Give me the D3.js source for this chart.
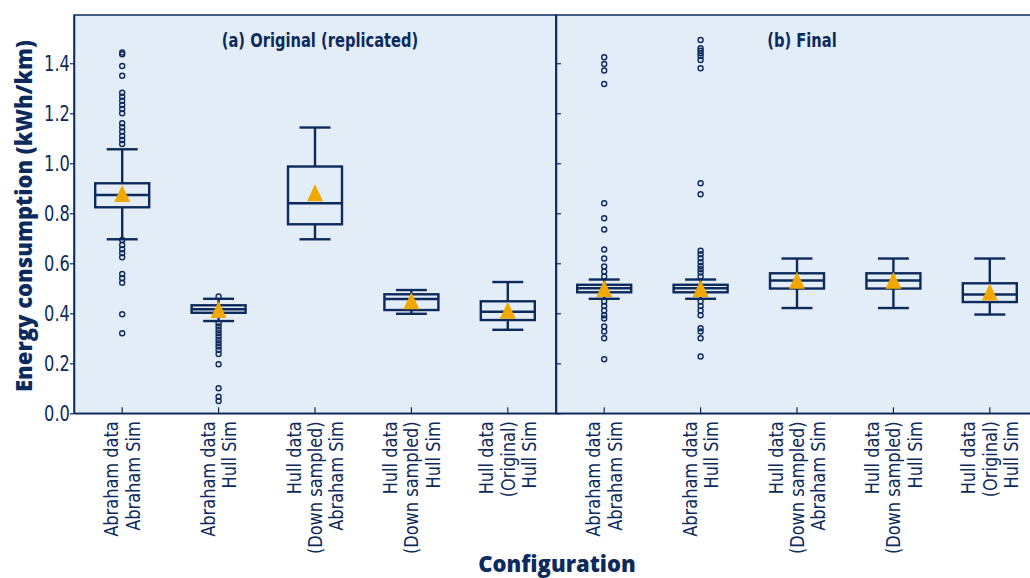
<!DOCTYPE html>
<html>
<head>
<meta charset="UTF-8">
<title>Energy consumption</title>
<script src="https://cdn.jsdelivr.net/npm/d3@7"></script>
<style>
  body { margin: 0; background: #fff; }
</style>
</head>
<body>
<svg id="chart"></svg>
<script>
// categories (each label is several lines)
var categories = [
    ["Abraham data", "Abraham Sim"],
    ["Abraham data", "Hull Sim"],
    ["Hull data", "(Down sampled)", "Abraham Sim"],
    ["Hull data", "(Down sampled)", "Hull Sim"],
    ["Hull data", "(Original)", "Hull Sim"]
];
var panelTitles = ["(a) Original (replicated)", "(b) Final"];
var yTicks = [0, 0.2, 0.4, 0.6, 0.8, 1.0, 1.2, 1.4];

// box stats, [panel][category]
var whiskerLow  = [[0.696, 0.369, 0.696, 0.398, 0.334], [0.458, 0.458, 0.421, 0.421, 0.395]];
var q1          = [[0.824, 0.402, 0.756, 0.413, 0.373], [0.484, 0.484, 0.499, 0.499, 0.445]];
var median      = [[0.873, 0.416, 0.840, 0.457, 0.406], [0.500, 0.500, 0.531, 0.531, 0.475]];
var q3          = [[0.920, 0.432, 0.987, 0.476, 0.448], [0.514, 0.514, 0.560, 0.560, 0.520]];
var whiskerHigh = [[1.056, 0.458, 1.143, 0.493, 0.525], [0.535, 0.535, 0.619, 0.619, 0.619]];
var means       = [[0.877, 0.413, 0.880, 0.448, 0.410], [0.497, 0.497, 0.530, 0.530, 0.483]];

// outliers, [panel][category]
var outliers = [
    [
        [1.443, 1.436, 1.389, 1.350, 1.282, 1.266, 1.250, 1.233, 1.217, 1.200, 1.160, 1.144, 1.127, 1.109, 1.093, 1.077,
         0.693, 0.673, 0.656, 0.640, 0.624, 0.557, 0.540, 0.522, 0.396, 0.320],
        [0.467, 0.360, 0.347, 0.333, 0.320, 0.307, 0.293, 0.280, 0.267, 0.253, 0.237, 0.196, 0.100, 0.066, 0.049],
        [], [], []
    ],
    [
        [1.424, 1.397, 1.371, 1.317, 0.840, 0.780, 0.735, 0.655, 0.619, 0.587, 0.567, 0.547,
         0.447, 0.429, 0.411, 0.392, 0.379, 0.347, 0.327, 0.300, 0.216],
        [1.493, 1.460, 1.450, 1.440, 1.429, 1.413, 1.380, 0.920, 0.876, 0.650, 0.636, 0.620, 0.604, 0.589, 0.576, 0.563, 0.547,
         0.447, 0.429, 0.411, 0.392, 0.340, 0.327, 0.300, 0.227],
        [], [], []
    ]
];

(function() {
    var width = 1030, height = 578;
    var navy = "#0c2b5c";
    var bg = "#e3edf8";
    var mean = "#f0a800";
    var narrow = "'Liberation Sans Narrow', 'DejaVu Sans Condensed', sans-serif";

    var left = 74, top = 15, bottom = 413.3, panelW = 482;

    var svg = d3.select("#chart").attr("width", width).attr("height", height);

    var y = d3.scaleLinear().domain([0, 1.593]).range([bottom, top]);

    panelTitles.forEach(function(title, p) {
        var x0 = left + p * panelW;
        var x = d3.scaleBand().domain(d3.range(categories.length)).range([x0, x0 + panelW]);
        var g = svg.append("g");

        g.append("rect")
            .attr("x", x0).attr("y", top)
            .attr("width", panelW).attr("height", bottom - top)
            .attr("fill", bg).attr("stroke", navy).attr("stroke-width", 1.5);

        // y axis
        var yAxis = p === 0
            ? d3.axisLeft(y).tickValues(yTicks).tickFormat(d3.format(".1f")).tickSizeInner(4).tickSizeOuter(0).tickPadding(1)
            : d3.axisRight(y).tickValues(yTicks).tickFormat("").tickSizeInner(5).tickSizeOuter(0);
        var ya = g.append("g").attr("transform", "translate(" + x0 + ",0)").call(yAxis);
        ya.select(".domain").attr("stroke", navy).attr("stroke-width", 1.5);
        ya.selectAll(".tick line").attr("stroke", navy).attr("stroke-width", 1.2);
        ya.selectAll(".tick text").attr("fill", navy)
            .attr("transform", "scale(0.82,1)")
            .style("font-family", narrow).style("font-size", "22px");

        // x axis, ticks inside
        var xa = g.append("g").attr("transform", "translate(0," + bottom + ")")
            .call(d3.axisBottom(x).tickFormat("").tickSizeInner(-6).tickSizeOuter(0));
        xa.select(".domain").attr("stroke", navy).attr("stroke-width", 1.5);
        xa.selectAll(".tick line").attr("stroke", navy).attr("stroke-width", 1.2);

        // multi-line rotated labels
        var lh = 21.5;
        var lab = g.selectAll(".xlab").data(categories).enter().append("text")
            .attr("class", "xlab")
            .attr("transform", function(d, i) {
                return "translate(" + (x(i) + x.bandwidth() / 2) + "," + (bottom + 8) + ") rotate(-90) scale(0.9,1)";
            })
            .attr("text-anchor", "end")
            .attr("fill", navy)
            .style("font-family", narrow).style("font-size", "20px");
        lab.each(function(d) {
            var t = d3.select(this);
            d.forEach(function(line, k) {
                t.append("tspan").attr("x", 0)
                    .attr("y", (k - (d.length - 1) / 2) * lh + 7)
                    .text(line);
            });
        });

        // boxes
        var bw = 54, cw = 31;
        var boxes = g.selectAll(".box").data(categories).enter().append("g")
            .attr("class", "box")
            .attr("transform", function(d, i) { return "translate(" + (x(i) + x.bandwidth() / 2) + ",0)"; });

        boxes.append("line")
            .attr("y1", function(d, i) { return y(whiskerLow[p][i]); })
            .attr("y2", function(d, i) { return y(whiskerHigh[p][i]); })
            .attr("stroke", navy).attr("stroke-width", 2.4);
        [whiskerLow, whiskerHigh].forEach(function(arr) {
            boxes.append("line")
                .attr("x1", -cw / 2).attr("x2", cw / 2)
                .attr("y1", function(d, i) { return y(arr[p][i]); })
                .attr("y2", function(d, i) { return y(arr[p][i]); })
                .attr("stroke", navy).attr("stroke-width", 2.4);
        });
        boxes.append("rect")
            .attr("x", -bw / 2).attr("width", bw)
            .attr("y", function(d, i) { return y(q3[p][i]); })
            .attr("height", function(d, i) { return y(q1[p][i]) - y(q3[p][i]); })
            .attr("fill", bg).attr("stroke", navy).attr("stroke-width", 2.4);
        boxes.append("line")
            .attr("x1", -bw / 2).attr("x2", bw / 2)
            .attr("y1", function(d, i) { return y(median[p][i]); })
            .attr("y2", function(d, i) { return y(median[p][i]); })
            .attr("stroke", navy).attr("stroke-width", 2.4);

        // outliers
        boxes.each(function(d, i) {
            d3.select(this).selectAll("circle").data(outliers[p][i]).enter().append("circle")
                .attr("cx", 0).attr("cy", function(v) { return y(v); })
                .attr("r", 2.5)
                .attr("fill", "none").attr("stroke", navy).attr("stroke-width", 1.4);
        });

        // mean triangle
        boxes.append("path")
            .attr("d", "M0,-9L8,8L-8,8Z")
            .attr("transform", function(d, i) { return "translate(0," + y(means[p][i]) + ")"; })
            .attr("fill", mean);

        // panel title
        g.append("text")
            .attr("transform", "translate(" + (x0 + panelW / 2 + 5) + ",47) scale(0.86,1)")
            .attr("text-anchor", "middle")
            .attr("fill", navy)
            .style("font-family", narrow).style("font-weight", "bold").style("font-size", "19px")
            .text(title);
    });

    // axis titles
    svg.append("text")
        .attr("transform", "translate(32,216) rotate(-90)")
        .attr("text-anchor", "middle")
        .attr("fill", navy)
        .style("font-family", "'Open Sans', sans-serif").style("font-weight", 800).style("font-size", "22px")
        .text("Energy consumption (kWh/km)");

    svg.append("text")
        .attr("x", 557).attr("y", 572)
        .attr("text-anchor", "middle")
        .attr("fill", navy)
        .style("font-family", "'Open Sans', sans-serif").style("font-weight", 800).style("font-size", "22px")
        .text("Configuration");
})();
</script>
</body>
</html>
